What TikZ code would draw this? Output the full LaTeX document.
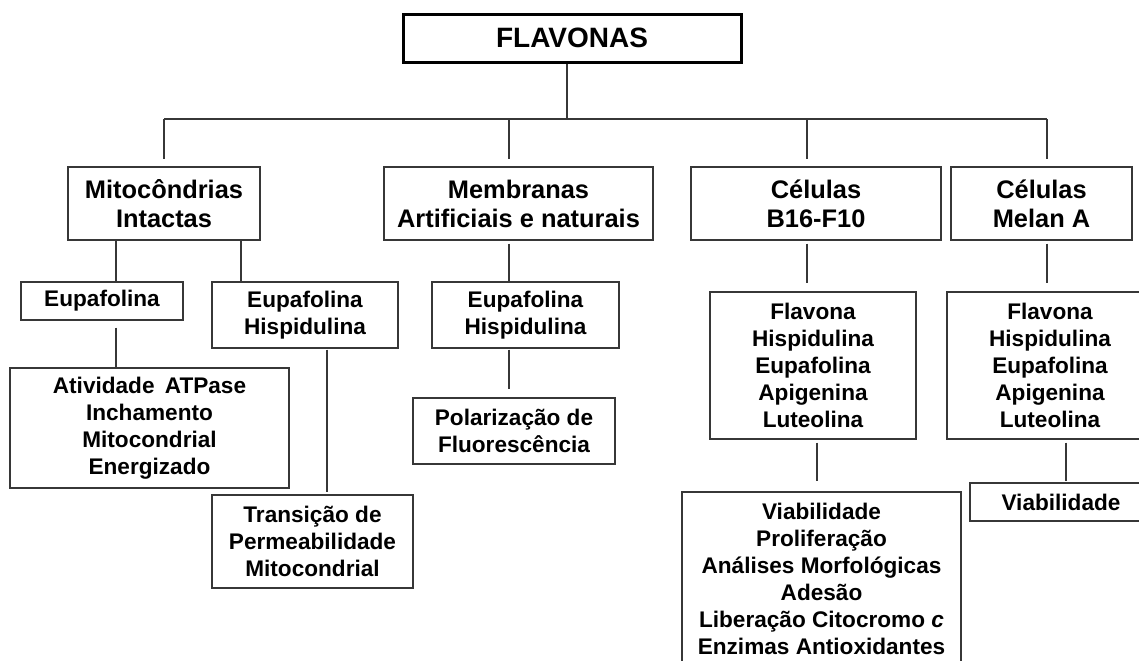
\documentclass[tikz,border=0pt]{standalone}
\usepackage{fontspec}
\setmainfont{Liberation Sans}
\usepackage{tikz}
\definecolor{linegray}{RGB}{55,55,55}

\begin{document}
\begin{tikzpicture}[x=0.5pt, y=-0.5pt,
    box/.style={draw=linegray, line width=0.6pt, align=center, inner sep=0pt,
        font=\fontsize{11.3}{13.5}\selectfont\bfseries},
    groupbox/.style={box, font=\fontsize{12.7}{14.5}\selectfont\bfseries},
    rootbox/.style={draw=black, line width=1.5pt, inner sep=0pt,
        font=\fontsize{14}{16}\selectfont\bfseries},
    link/.style={draw=linegray, line width=0.6pt}]

    \useasboundingbox (0,0) rectangle (1139,660);

    \node[rootbox, minimum width=169pt, minimum height=24pt] (flav) at (572,38) {FLAVONAS};

    \node[groupbox, minimum width=96pt, minimum height=36.5pt] (mito) at (164,203.5) {Mitocôndrias\\Intactas};
    \node[groupbox, minimum width=134.5pt, minimum height=36.5pt] (memb) at (518.5,203.5) {Membranas\\Artificiais e naturais};
    \node[groupbox, minimum width=125pt, minimum height=36.5pt] (b16) at (816,203.5) {Células\\B16-F10};
    \node[groupbox, minimum width=90.5pt, minimum height=36.5pt] (melan) at (1041.5,203.5) {Células\\Melan A};

    \node[box, minimum width=81pt, minimum height=19pt] (eup) at (102,301) {Eupafolina};
    \node[box, minimum width=93pt, minimum height=33pt] (euphisp) at (305,315) {Eupafolina\\Hispidulina};
    \node[box, minimum width=139.5pt, minimum height=60pt] (atpase) at (149.5,428) {Atividade\hspace{2pt} ATPase\\Inchamento\\Mitocondrial\\Energizado};
    \node[box, minimum width=100.5pt, minimum height=46.5pt] (transicao) at (312.5,541.5) {Transição de\\Permeabilidade\\Mitocondrial};

    \node[box, minimum width=93.5pt, minimum height=33pt] (membeh) at (525.5,315) {Eupafolina\\Hispidulina};
    \node[box, minimum width=101pt, minimum height=33pt] (polar) at (514,431) {Polarização de\\Fluorescência};

    \node[box, minimum width=103pt, minimum height=73.5pt] (b16list) at (813,365.5) {Flavona\\Hispidulina\\Eupafolina\\Apigenina\\Luteolina};
    \node[box, minimum width=103pt, minimum height=73.5pt] (melanlist) at (1050,365.5) {Flavona\\Hispidulina\\Eupafolina\\Apigenina\\Luteolina};
    \node[box, minimum width=139.5pt, minimum height=86.5pt] (ensaios) at (821.5,578.5) {Viabilidade\\Proliferação\\Análises Morfológicas\\Adesão\\Liberação Citocromo \textit{c}\\Enzimas Antioxidantes};
    \node[box, minimum width=91pt, minimum height=19pt] (viab) at (1061,502) {Viabilidade};

    \coordinate (dmito) at (164,119);
    \coordinate (dmemb) at (509,119);
    \coordinate (db16) at (807,119);
    \coordinate (dmelan) at (1047,119);

    \draw[link] ([xshift=-2.5pt]flav.south) -- ([xshift=-2.5pt]flav.south |- dmito);
    \draw[link] (dmito) -- (dmelan);
    \draw[link, shorten >=3.5pt] (dmito) -- (dmito |- mito.north);
    \draw[link, shorten >=3.5pt] (dmemb) -- (dmemb |- memb.north);
    \draw[link, shorten >=3.5pt] (db16) -- (db16 |- b16.north);
    \draw[link, shorten >=3.5pt] (dmelan) -- (dmelan |- melan.north);

    \draw[link] ([shift={(-48,0)}]mito.south) -- ([shift={(14,0)}]eup.north);
    \draw[link] ([shift={(77,0)}]mito.south) -- ([shift={(-64,0)}]euphisp.north);
    \draw[link] ([shift={(14,7)}]eup.south) -- ([shift={(-33.5,0)}]atpase.north);
    \draw[link] ([shift={(22,1)}]euphisp.south) -- ([shift={(14.5,-2)}]transicao.north);

    \draw[link] ([shift={(-9.5,3)}]memb.south) -- ([shift={(-16.5,2)}]membeh.north);
    \draw[link] ([shift={(-16.5,1)}]membeh.south) -- ([shift={(-5,-8)}]polar.north);

    \draw[link] ([shift={(-9,3)}]b16.south) -- ([shift={(-6,-8)}]b16list.north);
    \draw[link] ([shift={(5.5,3)}]melan.south) -- ([shift={(-3,-8)}]melanlist.north);
    \draw[link] ([shift={(4,3)}]b16list.south) -- ([shift={(-4.5,-10)}]ensaios.north);
    \draw[link] ([shift={(16,3)}]melanlist.south) -- ([shift={(5,-1)}]viab.north);

\end{tikzpicture}
\end{document}
